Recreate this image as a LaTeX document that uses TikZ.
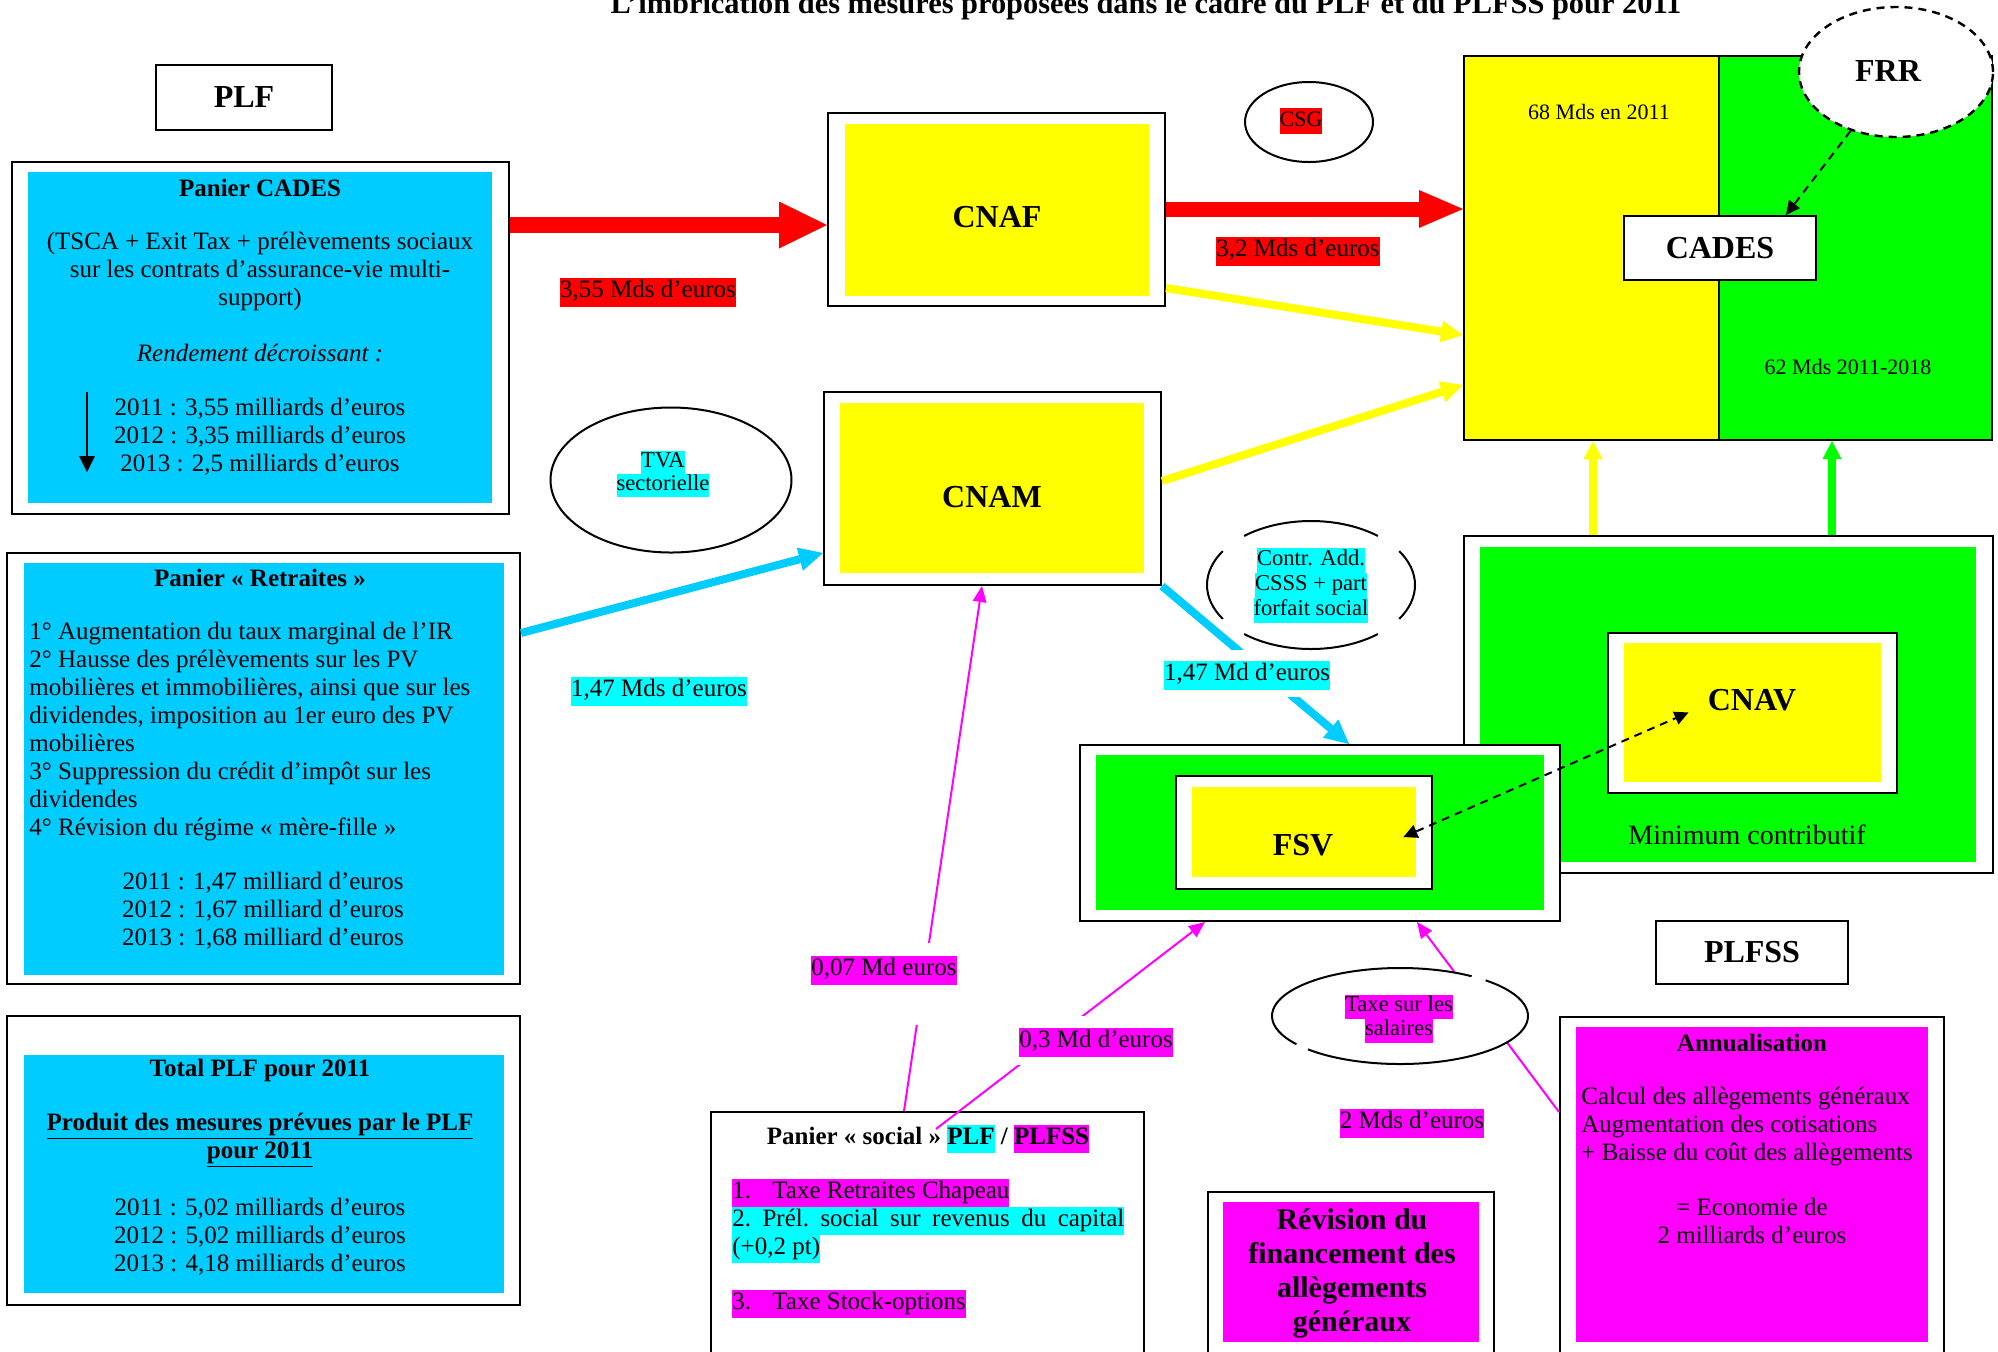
\documentclass[tikz,border=0pt]{standalone}
\usepackage{fontspec}
\setmainfont{Liberation Serif}
\usetikzlibrary{arrows.meta,fit,shapes.geometric,calc}
\definecolor{skyb}{HTML}{00CCFF}
\definecolor{hcyan}{HTML}{00FFFF}
\definecolor{yel}{HTML}{FFFF00}
\definecolor{grn}{HTML}{00FF00}
\definecolor{mag}{HTML}{FF00FF}
\definecolor{rd}{HTML}{FF0000}
\newcommand{\hlbox}[2]{{\setlength{\fboxsep}{0pt}\colorbox{#1}{\strut #2}}}
\newcommand{\setfs}[2]{\fontsize{#1}{#2}\selectfont}
\tikzset{
  boxframe/.style={draw, line width=1pt, fill=white, inner sep=0pt},
  fillonly/.style={draw=none, inner sep=0pt},
  txt/.style={inner sep=0pt, align=center, font=\setfs{12.5}{14}},
  btxt/.style={inner sep=0pt, align=center, font=\setfs{12.5}{14}\bfseries},
  bigt/.style={inner sep=0pt, font=\setfs{16}{18}\bfseries},
  hlabel/.style={inner sep=0pt, font=\setfs{12.5}{14.5}},
  smalltxt/.style={inner sep=0pt, align=center, font=\setfs{11.3}{12.5}},
  gapbox/.style={fill=white, draw=none, inner sep=0pt},
  ovalnode/.style={ellipse, draw, line width=1pt, fill=white, inner sep=0pt},
  redarrA/.style={draw=rd, line width=8pt, -{Triangle[length=24pt,width=23.5pt,line width=0pt]}},
  redarrB/.style={draw=rd, line width=7.5pt, -{Triangle[length=22pt,width=19pt,line width=0pt]}},
  yelarr/.style={draw=yel, line width=4pt, -{Triangle[length=11pt,width=11pt,line width=0pt]}},
  bluearr/.style={draw=skyb, line width=4pt, -{Triangle[length=12pt,width=12pt,line width=0pt]}},
  uparr/.style={line width=3.8pt, -{Triangle[length=9pt,width=9.5pt,line width=0pt]}},
  magarr/.style={draw=mag, line width=1pt, -{Triangle[length=8pt,width=7pt,line width=0pt]}},
  dasharr/.style={draw, line width=1pt, dash pattern=on 4pt off 3pt},
}
\begin{document}
\begin{tikzpicture}[x=0.5pt,y=-0.5pt]
\useasboundingbox (0,0) rectangle (1998,1351);

% title
\node[anchor=base, inner sep=0pt, font=\setfs{15.2}{17}\bfseries] (title) at (1146,13)
  {L’imbrication des mesures proposées dans le cadre du PLF et du PLFSS pour 2011};

% PLF / PLFSS labels
\node[boxframe, fit={(156,65) (332,130)}] (plf) {};
\node[bigt] (plfT) at (244,97) {PLF};
\node[boxframe, fit={(1656,921) (1848,984)}] (plfss) {};
\node[bigt] (plfssT) at (1752,952) {PLFSS};

% Panier CADES
\node[boxframe, fit={(12,162) (509,514)}] (cadesP) {};
\node[fillonly, fill=skyb, fit={(28,172) (492,503)}] (cadesPin) {};
\node[btxt] (cadesPt) at (260,188) {Panier CADES};
\node[txt] (cadesPa) at (260,271) {(TSCA + Exit Tax + prélèvements sociaux\\sur les contrats d’assurance-vie multi-\\support)};
\node[txt, font=\setfs{12.5}{14}\itshape] (cadesPb) at (260,353) {Rendement décroissant :};
\node[txt] (cadesPc) at (260,437) {2011 : 3,55 milliards d’euros\\2012 : 3,35 milliards d’euros\\2013 : 2,5 milliards d’euros};
\coordinate (decA) at (87,392);
\coordinate (decB) at (87,472);
\draw[line width=1pt, -{Triangle[length=8pt,width=8pt,line width=0pt]}] (decA) -- (decB);

% Panier Retraites
\node[boxframe, fit={(7,553) (520,984)}] (retr) {};
\node[fillonly, fill=skyb, fit={(24,563) (504,975)}] (retrIn) {};
\node[btxt] (retrT) at (260,578) {Panier « Retraites »};
\node[txt, align=left, anchor=west] (retrL) at (29,732) {1° Augmentation du taux marginal de l’IR\\2° Hausse des prélèvements sur les PV\\mobilières et immobilières, ainsi que sur les\\dividendes, imposition au 1er euro des PV\\mobilières\\3° Suppression du crédit d’impôt sur les\\dividendes\\4° Révision du régime « mère-fille »};
\node[txt] (retrY) at (263,911) {2011 : 1,47 milliard d’euros\\2012 : 1,67 milliard d’euros\\2013 : 1,68 milliard d’euros};

% Total PLF
\node[boxframe, fit={(7,1016) (520,1305)}] (tot) {};
\node[fillonly, fill=skyb, fit={(24,1055) (504,1293)}] (totIn) {};
\node[btxt] (totT) at (260,1070) {Total PLF pour 2011};
\node[btxt] (totU) at (260,1140) {\underline{Produit des mesures prévues par le PLF}\\\underline{pour 2011}};
\node[txt] (totY) at (260,1237) {2011 : 5,02 milliards d’euros\\2012 : 5,02 milliards d’euros\\2013 : 4,18 milliards d’euros};

% CNAF, CNAM
\node[boxframe, fit={(828,113) (1165,306)}] (cnaf) {};
\node[fillonly, fill=yel, fit={(845,124) (1149,296)}] (cnafIn) {};
\node[bigt] (cnafT) at (997,217) {CNAF};
\node[boxframe, fit={(824,392) (1161,585)}] (cnam) {};
\node[fillonly, fill=yel, fit={(840,403) (1144,573)}] (cnamIn) {};
\node[bigt] (cnamT) at (992,497) {CNAM};

% big CADES block
\node[draw, line width=1pt, fill=yel, inner sep=0pt, fit={(1464,56) (1719,440)}] (cadesY) {};
\node[draw, line width=1pt, fill=grn, inner sep=0pt, fit={(1719,56) (1992,440)}] (cadesG) {};
\node[inner sep=0pt, font=\setfs{11}{13}] (m68) at (1599,112) {68 Mds en 2011};
\node[inner sep=0pt, font=\setfs{11}{13}] (m62) at (1848,367) {62 Mds 2011-2018};
\node[boxframe, fit={(1624,216) (1816,280)}] (cadesN) {};
\node[bigt] (cadesNT) at (1720,248) {CADES};
\node[ovalnode, line width=1.2pt, dash pattern=on 4pt off 3pt, minimum width=97pt, minimum height=65pt] (frr) at (1896,72) {};
\node[bigt] (frrT) at (1888,71) {FRR};
\coordinate (cadesTop) at ($(cadesN.north west)!0.84!(cadesN.north east)$);
\draw[dasharr, -{Triangle[length=7pt,width=7pt,line width=0pt]}] (frr) -- (cadesTop);

% CNAV
\node[boxframe, fit={(1464,536) (1993,873)}] (cnavO) {};
\node[fillonly, fill=grn, fit={(1480,547) (1976,862)}] (cnavG) {};
\node[boxframe, fit={(1608,633) (1897,793)}] (cnavW) {};
\node[fillonly, fill=yel, fit={(1624,643) (1881,782)}] (cnavY) {};
\node[bigt] (cnavT) at (1752,700) {CNAV};
\node[inner sep=0pt, font=\setfs{14}{16}] (minc) at (1747,835) {Minimum contributif};

% FSV
\node[boxframe, fit={(1080,745) (1560,921)}] (fsvO) {};
\node[fillonly, fill=grn, fit={(1096,755) (1544,910)}] (fsvG) {};
\node[boxframe, fit={(1176,776) (1432,889)}] (fsvW) {};
\node[fillonly, fill=yel, fit={(1192,787) (1416,877)}] (fsvY) {};
\node[bigt] (fsvT) at (1303,845) {FSV};

% Panier social
\node[boxframe, fit={(711,1112) (1144,1362)}] (soc) {};
\node[inner sep=0pt, font=\setfs{12.5}{14}\bfseries] (socT) at (928,1139) {Panier « social » \hlbox{hcyan}{PLF} / \hlbox{mag}{PLFSS}};
\node[inner sep=0pt, anchor=west, font=\setfs{12.5}{14}] (soc1) at (732,1193) {\hlbox{mag}{\makebox[20pt][l]{1.}Taxe Retraites Chapeau}};
\node[inner sep=0pt, anchor=west, font=\setfs{12.5}{14}] (soc2) at (732,1221) {\hlbox{hcyan}{\hbox to 196pt{2.\hfill Prél.\hfill social\hfill sur\hfill revenus\hfill du\hfill capital}}};
\node[inner sep=0pt, anchor=west, font=\setfs{12.5}{14}] (soc3) at (732,1249) {\hlbox{hcyan}{(+0,2 pt)}};
\node[inner sep=0pt, anchor=west, font=\setfs{12.5}{14}] (soc4) at (732,1304) {\hlbox{mag}{\makebox[20pt][l]{3.}Taxe Stock-options}};

% Revision
\node[boxframe, fit={(1208,1192) (1494,1362)}] (rev) {};
\node[fillonly, fill=mag, fit={(1223,1202) (1479,1342)}] (revIn) {};
\node[txt, font=\setfs{15}{17}\bfseries] (revT) at (1352,1273) {Révision du\\financement des\\allègements\\généraux};

% Annualisation
\node[boxframe, fit={(1560,1017) (1944,1362)}] (ann) {};
\node[fillonly, fill=mag, fit={(1576,1027) (1928,1342)}] (annIn) {};
\node[btxt] (annT) at (1752,1043) {Annualisation};
\node[txt, align=left, anchor=west] (annL) at (1581,1126) {Calcul des allègements généraux\\Augmentation des cotisations\\+ Baisse du coût des allègements};
\node[txt] (annE) at (1752,1221) {= Economie de\\2 milliards d’euros};

% arrows
\draw[redarrA] (cadesP.east |- 0,225) -- (cnaf.west |- 0,225);
\draw[redarrB] (cnaf.east |- 0,209) -- (cadesY.west |- 0,209);
\draw[yelarr] (cnaf.east |- 0,288) -- (cadesY.west |- 0,335);
\draw[yelarr] (cnam.east |- 0,481) -- (cadesY.west |- 0,385);
\draw[bluearr] (retr.east |- 0,633) -- (cnam.west |- 0,553);
\draw[bluearr] (cnam.south east) -- (fsvO.north -| 1349,0);
\draw[uparr, draw=yel] (cnavO.north -| 1593,0) -- (cadesY.south -| 1593,0);
\draw[uparr, draw=grn] (cnavO.north -| 1832,0) -- (cadesG.south -| 1832,0);
\coordinate (fsvPt) at ($(fsvY.east)+(-13,5)$);
\coordinate (cnavPt) at ($(cnavY.center)+(-64,0)$);
\draw[dasharr, {Triangle[length=7pt,width=7pt,line width=0pt]}-{Triangle[length=7pt,width=7pt,line width=0pt]}] (fsvPt) -- (cnavPt);
\draw[magarr] (soc.north -| 904,0) -- (cnam.south -| 982,0);
\coordinate (socPt) at (936,1129);
\draw[magarr] (socPt) -- (fsvO.south -| 1205,0);
\draw[magarr] (ann.west |- 0,1112) -- (fsvO.south -| 1417,0);

% gaps behind labels
\node[gapbox, fit={(800,943) (965,1025)}] (g007) {};
\node[gapbox, fit={(1010,1016) (1180,1065)}] (g03) {};
\node[gapbox, fit={(1160,650) (1340,697)}] (g147) {};

% labels
\node[hlabel] (l355) at (648,292) {\hlbox{rd}{3,55 Mds d’euros}};
\node[hlabel] (l32) at (1298,251) {\hlbox{rd}{3,2 Mds d’euros}};
\node[hlabel] (l147a) at (659,691) {\hlbox{hcyan}{1,47 Mds d’euros}};
\node[hlabel] (l147b) at (1247,675) {\hlbox{hcyan}{1,47 Md d’euros}};
\node[hlabel] (l007) at (884,970) {\hlbox{mag}{0,07 Md euros}};
\node[hlabel] (l03) at (1096,1042) {\hlbox{mag}{0,3 Md d’euros}};
\node[hlabel] (l2) at (1412,1123) {\hlbox{mag}{2 Mds d’euros}};

% ellipses
\node[ovalnode, minimum width=64pt, minimum height=40pt] (csg) at (1309,122) {};
\node[inner sep=0pt, font=\setfs{11}{13}] (csgT) at (1301,121) {\hlbox{rd}{CSG}};
\node[ovalnode, minimum width=120.5pt, minimum height=72.5pt] (tva) at (671,480) {};
\node[inner sep=0pt, align=center, font=\setfs{11.3}{11.5}] (tvaT) at (663,474) {\hlbox{hcyan}{TVA}\\\hlbox{hcyan}{sectorielle}};
\node[ellipse, draw=none, fill=white, inner sep=0pt, minimum width=104pt, minimum height=64pt] (contr) at (1311,585) {};
\draw[line width=1pt] (contr.center) ++(50:52pt and 32pt) arc[start angle=50, end angle=130, x radius=52pt, y radius=32pt];
\draw[line width=1pt] (contr.center) ++(148:52pt and 32pt) arc[start angle=148, end angle=212, x radius=52pt, y radius=32pt];
\draw[line width=1pt] (contr.center) ++(230:52pt and 32pt) arc[start angle=230, end angle=310, x radius=52pt, y radius=32pt];
\draw[line width=1pt] (contr.center) ++(-32:52pt and 32pt) arc[start angle=-32, end angle=32, x radius=52pt, y radius=32pt];
\node[smalltxt] (contrT) at (1311,585) {\hlbox{hcyan}{Contr. Add.}\\\hlbox{hcyan}{CSSS + part}\\\hlbox{hcyan}{forfait social}};
\node[ellipse, draw=none, fill=white, inner sep=0pt, minimum width=128pt, minimum height=48pt] (taxe) at (1400,1016) {};
\draw[line width=1pt] (taxe.center) ++(56:64pt and 24pt) arc[start angle=56, end angle=216, x radius=64pt, y radius=24pt];
\draw[line width=1pt] (taxe.center) ++(224:64pt and 24pt) arc[start angle=224, end angle=408, x radius=64pt, y radius=24pt];
\node[smalltxt, font=\setfs{11.3}{12}] (taxeT) at (1399,1019) {\hlbox{mag}{Taxe sur les}\\\hlbox{mag}{salaires}};
\end{tikzpicture}
\end{document}
